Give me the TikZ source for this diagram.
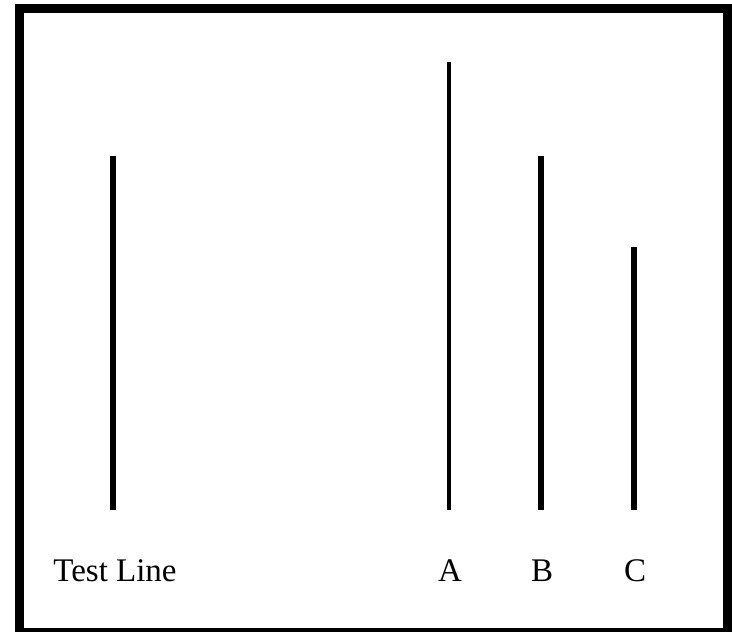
\documentclass[tikz,border=0pt]{standalone}
\usepackage{fontspec}
\setmainfont{Liberation Serif}
\begin{document}
\begin{tikzpicture}[x=0.75pt,y=-0.75pt,
  stim/.style={line width=3.8pt},
  lbl/.style={font=\fontsize{24.75}{28}\selectfont, anchor=base, inner sep=0pt}]
\useasboundingbox (0,0) rectangle (732,632);
\begin{scope}
\clip (0,0) rectangle (732,632);
\draw[line width=6.75pt] (19.5,8) rectangle (727.5,632.5);
\end{scope}
\coordinate (tt) at (113,156); \coordinate (tb) at (113,510);
\coordinate (at) at (449,62);  \coordinate (ab) at (449,510);
\coordinate (bt) at (541,156); \coordinate (bb) at (541,510);
\coordinate (ct) at (634,247); \coordinate (cb) at (634,510);
\draw[line width=3.8pt] (tt) -- (tb);
\draw[line width=2.8pt] (at) -- (ab);
\draw[stim] (bt) -- (bb);
\draw[stim] (ct) -- (cb);
\node[lbl] (tl) at (115,581) {Test Line};
\node[lbl] (la) at (450,581) {A};
\node[lbl] (lb) at (542,581) {B};
\node[lbl] (lc) at (635,581) {C};
\end{tikzpicture}
\end{document}
